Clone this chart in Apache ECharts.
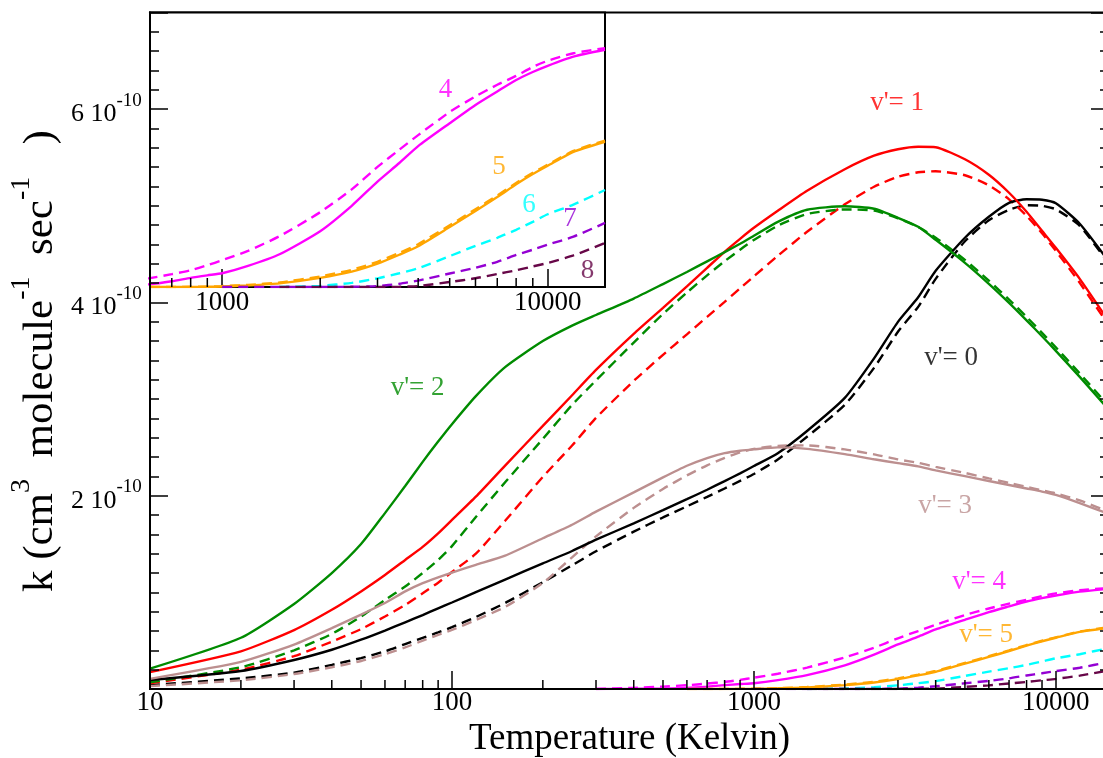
<!DOCTYPE html>
<html>
<head>
<meta charset="utf-8">
<script src="https://cdn.jsdelivr.net/npm/echarts@6/dist/echarts.min.js"></script>
<style>
  html, body { margin: 0; padding: 0; background: #fff; }
  #chart { width: 1103px; height: 758px; }
</style>
</head>
<body>
<div id="chart"></div>
<script>
// Temperatures (K) at which the rate coefficients are tabulated
const temperatures = [10, 20, 30, 40, 50, 60, 70, 80, 90, 100,
  120, 150, 200, 250, 300, 400, 500, 600, 700, 800, 900, 1000,
  1200, 1500, 2000, 2500, 3000, 3500, 4000, 5000, 6000, 7000,
  8000, 9000, 10000, 12000, 15000];

// Rate coefficients k(T) for each final vibrational level v',
// in units of 1e-10 cm^3 molecule^-1 s^-1 (solid and dashed calculations)
const k0Solid = [0.093, 0.186, 0.30, 0.406, 0.51, 0.605, 0.69, 0.765, 0.835, 0.895,
  1.002, 1.132, 1.30, 1.428, 1.545, 1.714, 1.851, 1.964, 2.062, 2.151, 2.231, 2.307,
  2.44, 2.67, 3.012, 3.421, 3.799, 4.053, 4.327, 4.669, 4.886, 5.031,
  5.067, 5.062, 5.026, 4.814, 4.42];
const k0Dashed = [0.04, 0.11, 0.17, 0.25, 0.32, 0.39, 0.465, 0.53, 0.585, 0.64,
  0.745, 0.89, 1.105, 1.28, 1.425, 1.628, 1.775, 1.89, 1.988, 2.075, 2.153, 2.225,
  2.375, 2.61, 2.94, 3.323, 3.696, 3.954, 4.244, 4.633, 4.85, 4.959,
  5.005, 5.0, 4.964, 4.793, 4.40];
const k1Solid = [0.175, 0.39, 0.61, 0.82, 1.01, 1.18, 1.335, 1.47, 1.61, 1.749,
  1.99, 2.312, 2.722, 3.04, 3.302, 3.675, 3.944, 4.167, 4.358, 4.524, 4.658, 4.772,
  4.948, 5.155, 5.378, 5.518, 5.585, 5.611, 5.606, 5.481, 5.321, 5.135,
  4.938, 4.741, 4.565, 4.244, 3.80];
const k1Dashed = [0.06, 0.20, 0.34, 0.49, 0.62, 0.75, 0.87, 0.99, 1.10, 1.21,
  1.40, 1.74, 2.195, 2.52, 2.805, 3.188, 3.458, 3.67, 3.851, 4.006, 4.146, 4.27,
  4.482, 4.731, 5.015, 5.197, 5.30, 5.347, 5.357, 5.316, 5.212, 5.067,
  4.896, 4.715, 4.534, 4.203, 3.758];
const k2Solid = [0.21, 0.53, 0.88, 1.20, 1.50, 1.82, 2.10, 2.35, 2.56, 2.74,
  3.03, 3.33, 3.60, 3.76, 3.87, 4.04, 4.19, 4.315, 4.425, 4.52, 4.607, 4.69,
  4.834, 4.959, 4.995, 4.969, 4.876, 4.783, 4.648, 4.41, 4.193, 3.996,
  3.815, 3.65, 3.499, 3.23, 2.888];
const k2Dashed = [0.07, 0.225, 0.40, 0.57, 0.75, 0.92, 1.06, 1.20, 1.335, 1.478,
  1.78, 2.139, 2.588, 2.94, 3.193, 3.584, 3.881, 4.102, 4.28, 4.426, 4.546, 4.646,
  4.794, 4.915, 4.962, 4.95, 4.87, 4.78, 4.67, 4.44, 4.225, 4.03,
  3.85, 3.685, 3.535, 3.265, 2.925];
const k3Solid = [0.105, 0.28, 0.46, 0.63, 0.77, 0.89, 1.01, 1.095, 1.155, 1.205,
  1.285, 1.38, 1.56, 1.70, 1.835, 2.035, 2.19, 2.31, 2.39, 2.44, 2.465, 2.48,
  2.50, 2.485, 2.43, 2.377, 2.337, 2.304, 2.262, 2.202, 2.152, 2.111,
  2.075, 2.043, 2.008, 1.923, 1.811];
const k3Dashed = [0.03, 0.09, 0.155, 0.225, 0.29, 0.36, 0.43, 0.50, 0.56, 0.611,
  0.714, 0.849, 1.097, 1.363, 1.579, 1.874, 2.07, 2.21, 2.314, 2.391, 2.448, 2.484,
  2.516, 2.521, 2.479, 2.428, 2.376, 2.34, 2.298, 2.236, 2.179, 2.133,
  2.091, 2.055, 2.024, 1.951, 1.832];
const k4Solid = [null, null, null, null, null, null, null, null, null, null,
  null, null, null, null, 0, 0.002, 0.006, 0.012, 0.025, 0.04, 0.051, 0.06,
  0.092, 0.143, 0.244, 0.355, 0.461, 0.542, 0.616, 0.716, 0.796, 0.855,
  0.905, 0.94, 0.967, 1.007, 1.037];
const k4Dashed = [null, null, null, null, null, null, null, null, null, null,
  null, null, null, null, 0, 0.012, 0.025, 0.039, 0.056, 0.073, 0.095, 0.117,
  0.158, 0.222, 0.327, 0.427, 0.525, 0.60, 0.664, 0.765, 0.833, 0.884,
  0.923, 0.962, 0.989, 1.022, 1.044];
const k5Solid = [null, null, null, null, null, null, null, null, null, null,
  null, null, null, null, null, null, null, 0, 0, 0, 0.001, 0.002,
  0.007, 0.016, 0.040, 0.067, 0.102, 0.141, 0.178, 0.262, 0.332, 0.393,
  0.449, 0.494, 0.53, 0.591, 0.635];
const k5Dashed = [null, null, null, null, null, null, null, null, null, null,
  null, null, null, null, null, null, null, 0, 0, 0.001, 0.002, 0.004,
  0.009, 0.02, 0.046, 0.075, 0.11, 0.149, 0.187, 0.27, 0.34, 0.40,
  0.455, 0.499, 0.535, 0.595, 0.64];
const k6Dashed = [null, null, null, null, null, null, null, null, null, null,
  null, null, null, null, null, null, null, null, null, null, null, null,
  null, 0, 0.005, 0.018, 0.038, 0.06, 0.082, 0.135, 0.18, 0.215,
  0.25, 0.285, 0.318, 0.36, 0.424];
const k7Dashed = [null, null, null, null, null, null, null, null, null, null,
  null, null, null, null, null, null, null, null, null, null, null, 0,
  0, 0, 0, 0.001, 0.004, 0.014, 0.028, 0.059, 0.084, 0.11,
  0.14, 0.163, 0.185, 0.22, 0.28];
const k8Dashed = [null, null, null, null, null, null, null, null, null, null,
  null, null, null, null, null, null, null, null, null, null, null, null,
  null, 0, 0, 0, 0, 0.001, 0.004, 0.022, 0.038, 0.057,
  0.073, 0.09, 0.105, 0.138, 0.193];

// Tick marks and labels
const xMajorTicksMain = [10, 100, 1000, 10000];
const xMinorTicksMain = [20, 30, 40, 50, 60, 70, 80, 90,
  200, 300, 400, 500, 600, 700, 800, 900,
  2000, 3000, 4000, 5000, 6000, 7000, 8000, 9000];
const xMinorTicksInset = [700, 800, 900, 2000, 3000, 4000, 5000, 6000, 7000, 8000, 9000];
const yLabelledTicks = [2, 4, 6];

const FONT = '"Liberation Serif", "Times New Roman", serif';
const COLORS = ['#000000', '#ff0000', '#008b00', '#bc8f8f', '#ff00ff',
  '#ffa500', '#00ffff', '#9400d3', '#670748'];
const DASH = [10, 6];

function pairs(vals) {
  const out = [];
  temperatures.forEach((t, i) => {
    if (vals[i] !== null && vals[i] !== undefined) out.push([t, vals[i]]);
  });
  return out;
}

function curve(vals, color, dashed, xi, yi, z) {
  return {
    type: 'line', xAxisIndex: xi, yAxisIndex: yi, data: pairs(vals),
    symbol: 'none', showSymbol: false, smooth: 0.2, silent: true,
    lineStyle: { color: color, width: 2.4, type: dashed ? DASH : 'solid' },
    z: z, animation: false
  };
}

function tickSeries(values, xi, yi, len, z) {
  return {
    type: 'custom', xAxisIndex: xi, yAxisIndex: yi, silent: true, clip: false, z: z,
    data: values.map(v => [v, 0]),
    renderItem: function (params, api) {
      const p = api.coord([api.value(0), api.value(1)]);
      return {
        type: 'line',
        shape: { x1: p[0], y1: p[1], x2: p[0], y2: p[1] - len },
        style: { stroke: '#000', lineWidth: 1.5 }
      };
    }
  };
}

function isDecade(v) {
  const l = Math.log10(v);
  return Math.abs(l - Math.round(l)) < 1e-6;
}

// Curve annotations, anchored in data coordinates (T, k)
const mainNotes = [
  { at: [4500, 3.43], text: "v'= 0", color: COLORS[0] },
  { at: [2980, 6.06], text: "v'= 1", color: COLORS[1] },
  { at: [77, 3.12], text: "v'= 2", color: COLORS[2] },
  { at: [4300, 1.89], text: "v'= 3", color: COLORS[3] },
  { at: [5570, 1.11], text: "v'= 4", color: COLORS[4] },
  { at: [5875, 0.56], text: "v'= 5", color: COLORS[5] }
];
const insetNotes = [
  { at: [4850, 0.862], text: '4', color: COLORS[4] },
  { at: [7080, 0.526], text: '5', color: COLORS[5] },
  { at: [8760, 0.358], text: '6', color: COLORS[6] },
  { at: [11700, 0.297], text: '7', color: COLORS[7] },
  { at: [13250, 0.069], text: '8', color: COLORS[8] }
];

function noteSeries(notes, xi, yi, z) {
  return {
    type: 'scatter', xAxisIndex: xi, yAxisIndex: yi, silent: true, z: z,
    symbolSize: 1, itemStyle: { color: 'rgba(0,0,0,0)' },
    data: notes.map(n => ({
      value: n.at,
      label: {
        show: true, position: 'inside', formatter: n.text, color: n.color,
        fontFamily: FONT, fontSize: 27
      }
    }))
  };
}

const tickLabelStyle = { fontFamily: FONT, fontSize: 27, color: '#000' };
const axisLineStyle = { color: '#000', width: 2 };
const tickStyle = { color: '#000', width: 1.5 };

function yAxisDef(opts) {
  return Object.assign({
    type: 'value', gridIndex: 0, min: 0, max: 7,
    splitLine: { show: false }, z: 20,
    axisLine: { show: false, onZero: false, lineStyle: axisLineStyle },
    axisTick: { show: true, inside: true, length: 18, lineStyle: tickStyle },
    axisLabel: { show: false }
  }, opts);
}

const series = [];
const mainSets = [
  [k0Solid, k0Dashed], [k1Solid, k1Dashed], [k2Solid, k2Dashed],
  [k3Solid, k3Dashed], [k4Solid, k4Dashed], [k5Solid, k5Dashed]
];
mainSets.forEach((set, v) => {
  series.push(curve(set[1], COLORS[v], true, 0, 0, 2));
  series.push(curve(set[0], COLORS[v], false, 0, 0, 3));
});
[k6Dashed, k7Dashed, k8Dashed].forEach((vals, i) => {
  series.push(curve(vals, COLORS[6 + i], true, 0, 0, 2));
});
// inset: the higher levels on an expanded scale
[[k4Solid, k4Dashed, 4], [k5Solid, k5Dashed, 5]].forEach(s => {
  series.push(curve(s[1], COLORS[s[2]], true, 1, 4, 12));
  series.push(curve(s[0], COLORS[s[2]], false, 1, 4, 12));
});
[k6Dashed, k7Dashed, k8Dashed].forEach((vals, i) => {
  series.push(curve(vals, COLORS[6 + i], true, 1, 4, 12));
});
series.push(tickSeries(xMinorTicksMain, 0, 0, 9, 21));
series.push(tickSeries(xMinorTicksInset, 1, 4, 9, 13));
series.push(noteSeries(mainNotes, 0, 0, 15));
series.push(noteSeries(insetNotes, 1, 4, 14));

const option = {
  animation: false,
  backgroundColor: '#fff',
  textStyle: { fontFamily: FONT },
  grid: [
    { left: 150, top: 12.5, right: -6, bottom: 69, show: true, borderColor: '#000',
      borderWidth: 2, backgroundColor: 'transparent', containLabel: false,
      outerBoundsMode: 'none', z: 0 },
    { left: 150, top: 12.5, width: 455, height: 274.5, show: true, borderColor: '#000',
      borderWidth: 2, backgroundColor: '#fff', containLabel: false,
      outerBoundsMode: 'none', z: 10 }
  ],
  xAxis: [
    { type: 'log', logBase: 10, gridIndex: 0, min: 10, max: 15000, position: 'bottom',
      splitLine: { show: false }, z: 20,
      axisLine: { show: true, onZero: false, lineStyle: axisLineStyle },
      axisTick: { show: true, inside: true, length: 18, lineStyle: tickStyle },
      axisLabel: { show: true, margin: 0, ...tickLabelStyle,
        formatter: v => (isDecade(v) && xMajorTicksMain.includes(Math.round(v))) ? String(Math.round(v)) : '' },
      name: 'Temperature (Kelvin)', nameLocation: 'middle', nameGap: 32,
      nameTextStyle: { fontFamily: FONT, fontSize: 37, color: '#000' } },
    { type: 'log', logBase: 10, gridIndex: 1, min: 600, max: 15000, position: 'bottom',
      splitLine: { show: false }, z: 11,
      axisLine: { show: false, onZero: false },
      axisTick: { show: true, inside: true, length: 18, lineStyle: tickStyle },
      axisLabel: { show: true, margin: 2, ...tickLabelStyle,
        formatter: v => isDecade(v) ? String(Math.round(v)) : '' } }
  ],
  yAxis: [
    yAxisDef({ position: 'left', interval: 2,
      axisLine: { show: true, onZero: false, lineStyle: axisLineStyle },
      axisLabel: { show: true, margin: 8,
        formatter: v => yLabelledTicks.includes(Math.round(v * 1000) / 1000) ? '{n|' + v + ' 10}{s|-10}{h| }' : '',
        rich: {
          n: { fontFamily: FONT, fontSize: 26, lineHeight: 26, verticalAlign: 'bottom', color: '#000' },
          s: { fontFamily: FONT, fontSize: 19, lineHeight: 19, verticalAlign: 'top', color: '#000' },
          h: { fontSize: 1, lineHeight: 36 }
        } } }),
    yAxisDef({ position: 'left', interval: 0.2,
      axisTick: { show: true, inside: true, length: 9, lineStyle: tickStyle } }),
    yAxisDef({ position: 'right', interval: 2,
      axisLine: { show: true, onZero: false, lineStyle: axisLineStyle } }),
    yAxisDef({ position: 'right', interval: 0.2,
      axisTick: { show: true, inside: true, length: 9, lineStyle: tickStyle } }),
    { type: 'value', gridIndex: 1, min: 0, max: 1.2, z: 11,
      axisLine: { show: false }, axisTick: { show: false },
      axisLabel: { show: false }, splitLine: { show: false } }
  ],
  graphic: [
    { type: 'text', x: 35, y: 361, rotation: Math.PI / 2, silent: true, z: 30,
      style: {
        text: '{t|k (cm}{s|3}{t|  molecule}{s|-1}{t|  sec}{s|-1}{t|   )}{h| }',
        align: 'center', verticalAlign: 'middle',
        rich: {
          t: { fontFamily: FONT, fontSize: 43, lineHeight: 43, verticalAlign: 'bottom', fill: '#000' },
          s: { fontFamily: FONT, fontSize: 28, lineHeight: 28, verticalAlign: 'top', fill: '#000' },
          h: { fontSize: 1, lineHeight: 55 }
        }
      } }
  ],
  series: series
};

const chart = echarts.init(document.getElementById('chart'), null, { renderer: 'canvas' });
chart.setOption(option);
</script>
</body>
</html>
